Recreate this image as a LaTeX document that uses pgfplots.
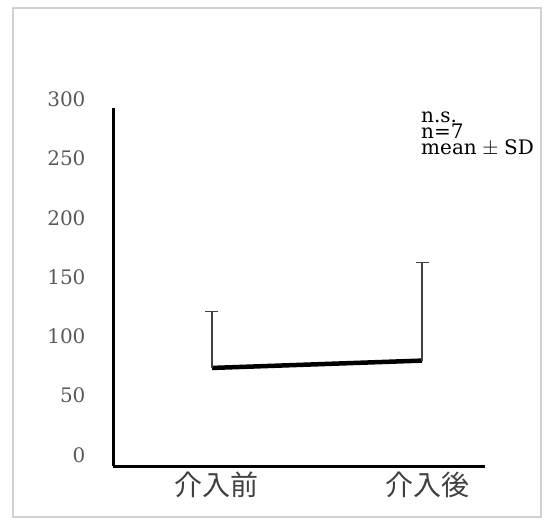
\documentclass[border=0pt]{standalone}
\usepackage{pgfplots}
\pgfplotsset{compat=1.18}
\usepackage{fontspec}
\setmainfont{DejaVu Serif}
\newfontfamily\cjk{Noto Sans CJK JP}
\begin{document}
\begin{tikzpicture}[x=1pt,y=1pt]
\path[use as bounding box] (0,0) rectangle (545,519);
\draw[line width=1.5pt, black!18] (13,2) rectangle (541,511);
\begin{axis}[
  at={(113pt,53pt)}, anchor=south west,
  scale only axis, width=372pt, height=366.8pt,
  xmin=-0.4714, xmax=1.3,
  ymin=-9.27, ymax=300,
  axis lines=left,
  axis line style={-, line width=3pt, black},
  y axis line style={shorten >=9pt},
  major tick length=0pt,
  xtick={0,1}, xticklabels={介入前,介入後},
  ytick={0,50,100,150,200,250,300},
  /pgf/number format/assume math mode=true,
  yticklabel style={font=\fontsize{20}{24}\selectfont, text=black!65, xshift=-24pt},
  xticklabel style={font=\cjk\fontsize{28}{32}\selectfont, text=black!75, xshift=5pt, yshift=-2pt},
  clip=false,
]
\addplot[black, line width=4.5pt,
  error bars/.cd, y dir=plus, y explicit,
  error bar style={line width=1.3pt, black!75},
  error mark options={rotate=90, mark size=6.5pt, line width=1.3pt, black!75}]
  table[x=x, y=y, y error=err] {
x y err
0 73.4 47.4
1 79.6 83.0
};
\end{axis}
\node[anchor=north west, inner sep=0pt, align=left, font=\fontsize{20}{13.5}\selectfont] at (421,407) {n.s.\\n=7\\mean\;$\pm$\;SD};
\end{tikzpicture}
\end{document}
